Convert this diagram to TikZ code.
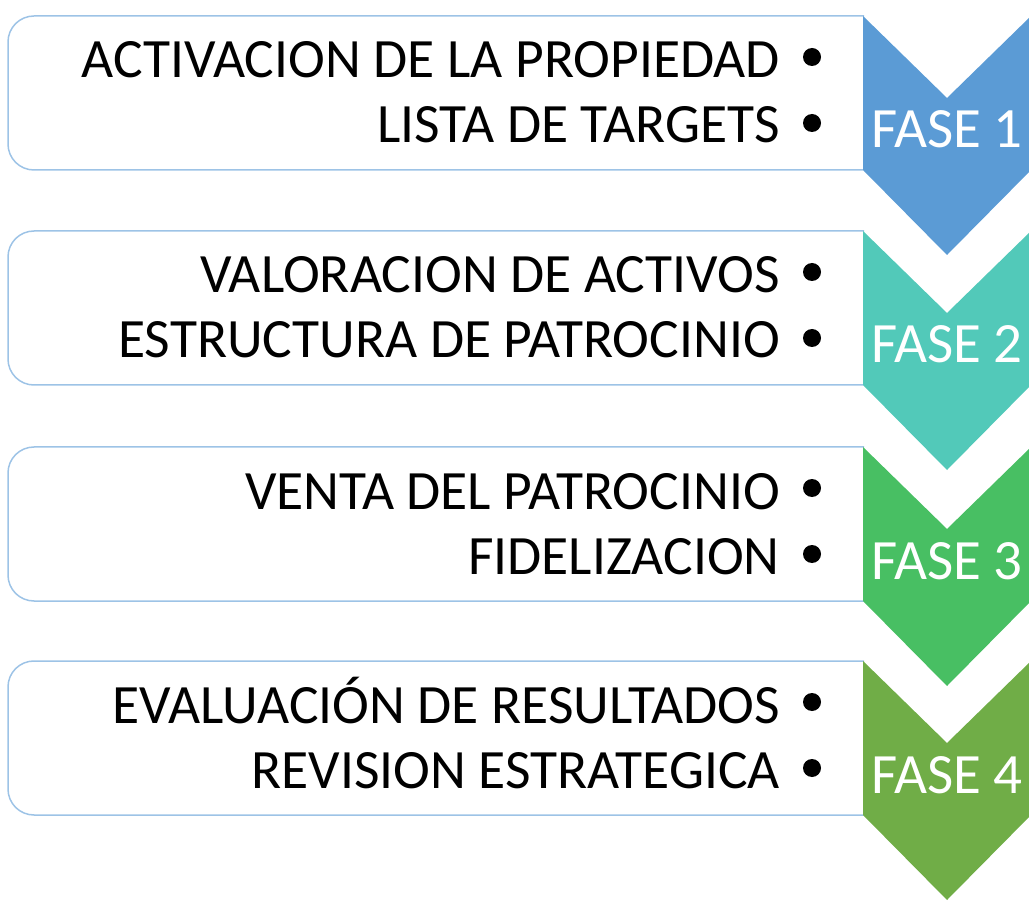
\documentclass[tikz,border=0pt]{standalone}
\usepackage{fontspec}
\setmainfont{Carlito}
\definecolor{c1}{HTML}{5B9BD5}
\definecolor{c2}{HTML}{52C9B9}
\definecolor{c3}{HTML}{48BF63}
\definecolor{c4}{HTML}{70AD47}
\definecolor{edgeblue}{HTML}{9DC3E6}
\tikzset{
  rowbox/.style={draw=edgeblue, line width=1.5pt, rounded corners=26pt},
  bodytext/.style={anchor=base east, inner sep=0pt, font=\fontsize{55.5}{55.5}\selectfont, text=black},
  fasetext/.style={anchor=base, inner sep=0pt, font=\fontsize{57}{57}\selectfont, text=white},
  bulletdot/.style={circle, fill=black, inner sep=0pt, minimum size=18pt}
}
\begin{document}
\begin{tikzpicture}[x=1pt,y=-1pt]
\useasboundingbox (0,0) rectangle (1029,901);
\foreach \i/\T/\col/\la/\lb in {
  1/16/c1/{ACTIVACION DE LA PROPIEDAD}/{LISTA DE TARGETS},
  2/231/c2/{VALORACION DE ACTIVOS}/{ESTRUCTURA DE PATROCINIO},
  3/447/c3/{VENTA DEL PATROCINIO}/{FIDELIZACION},
  4/661/c4/{EVALUACIÓN DE RESULTADOS}/{REVISION ESTRATEGICA}} {
  \draw[rowbox] (864,\T) -- (8,\T) -- (8,\T+154) -- (864,\T+154);
  \fill[\col] (863,\T) -- (947,\T+82) -- (1031,\T) -- (1031,\T+154) -- (947,\T+239) -- (863,\T+154) -- cycle;
  \node[bodytext] (la\i) at (780,\T+62) {\la};
  \node[bodytext] (lb\i) at (780,\T+127) {\lb};
  \node[bulletdot] (da\i) at (812,\T+41) {};
  \node[bulletdot] (db\i) at (812,\T+107) {};
  \node[fasetext] (f\i) at (947,\T+132) {FASE \i};
}
\end{tikzpicture}
\end{document}
